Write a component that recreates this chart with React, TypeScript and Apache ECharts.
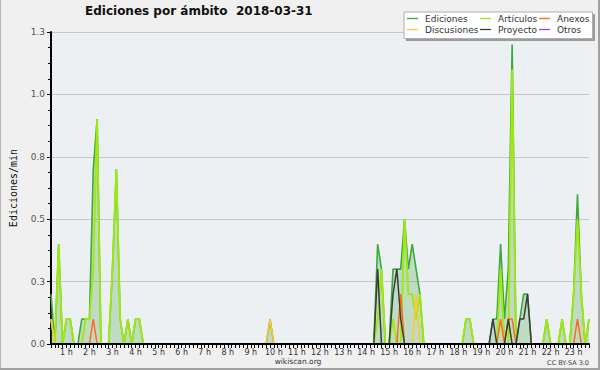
import React, { useEffect, useRef } from 'react';
import * as echarts from 'echarts';

// 10-minute bins from 00:20 to 23:40 (141 points)
const TIMES: string[] = Array.from({ length: 141 }, (_, i) => {
  const t = 20 + 10 * i;
  const h = Math.floor(t / 60);
  const m = t % 60;
  return `${String(h).padStart(2, '0')}:${String(m).padStart(2, '0')}`;
});

const EDICIONES = [
  0.2, 0, 0.4, 0, // 0h (00:20-00:50)
  0.1, 0.1, 0, 0, 0.1, 0.1, // 1h
  0.1, 0.7, 0.9, 0, 0, 0, // 2h
  0.3, 0.7, 0.1, 0, 0.1, 0, // 3h
  0.1, 0.1, 0, 0, 0, 0, // 4h
  0, 0, 0, 0, 0, 0, // 5h
  0, 0, 0, 0, 0, 0, // 6h
  0, 0, 0, 0, 0, 0, // 7h
  0, 0, 0, 0, 0, 0, // 8h
  0, 0, 0, 0, 0, 0.1, // 9h
  0, 0, 0, 0, 0, 0, // 10h
  0, 0, 0, 0, 0, 0, // 11h
  0, 0, 0, 0, 0, 0, // 12h
  0, 0, 0, 0, 0, 0, // 13h
  0, 0, 0, 0.4, 0.3, 0, // 14h
  0, 0.3, 0.3, 0.3, 0.5, 0.3, // 15h
  0.4, 0.3, 0.2, 0, 0, 0, // 16h
  0, 0, 0, 0, 0, 0, // 17h
  0, 0, 0.1, 0.1, 0, 0, // 18h
  0, 0, 0, 0.1, 0.1, 0.4, // 19h
  0.1, 0.3, 1.2, 0, 0.1, 0.2, // 20h
  0.2, 0, 0, 0, 0, 0.1, // 21h
  0, 0, 0, 0.1, 0, 0, // 22h
  0.2, 0.6, 0.2, 0, 0.1, // 23h
];

const ARTICULOS = [
  0.1, 0, 0.4, 0,
  0.1, 0.1, 0, 0, 0, 0.1,
  0.1, 0.3, 0.9, 0, 0, 0,
  0.3, 0.7, 0.1, 0, 0.1, 0,
  0.1, 0.1, 0, 0, 0, 0,
  0, 0, 0, 0, 0, 0,
  0, 0, 0, 0, 0, 0,
  0, 0, 0, 0, 0, 0,
  0, 0, 0, 0, 0, 0,
  0, 0, 0, 0, 0, 0,
  0, 0, 0, 0, 0, 0,
  0, 0, 0, 0, 0, 0,
  0, 0, 0, 0, 0, 0,
  0, 0, 0, 0, 0, 0,
  0, 0, 0, 0.1, 0.3, 0,
  0, 0.1, 0, 0, 0.5, 0.2,
  0.2, 0.1, 0.2, 0, 0, 0,
  0, 0, 0, 0, 0, 0,
  0, 0, 0.1, 0.1, 0, 0,
  0, 0, 0, 0, 0, 0.3,
  0, 0, 1.1, 0, 0, 0,
  0, 0, 0, 0, 0, 0.1,
  0, 0, 0, 0.1, 0, 0,
  0.2, 0.5, 0.2, 0, 0.1,
];

const ANEXOS = [
  0, 0, 0, 0,
  0, 0, 0, 0, 0, 0,
  0, 0.1, 0, 0, 0, 0,
  0, 0, 0, 0, 0, 0,
  0, 0, 0, 0, 0, 0,
  0, 0, 0, 0, 0, 0,
  0, 0, 0, 0, 0, 0,
  0, 0, 0, 0, 0, 0,
  0, 0, 0, 0, 0, 0,
  0, 0, 0, 0, 0, 0,
  0, 0, 0, 0, 0, 0,
  0, 0, 0, 0, 0, 0,
  0, 0, 0, 0, 0, 0,
  0, 0, 0, 0, 0, 0,
  0, 0, 0, 0, 0, 0,
  0, 0, 0, 0.2, 0, 0,
  0, 0, 0, 0, 0, 0,
  0, 0, 0, 0, 0, 0,
  0, 0, 0, 0, 0, 0,
  0, 0, 0, 0, 0, 0.1,
  0, 0.1, 0.1, 0, 0, 0,
  0, 0, 0, 0, 0, 0,
  0, 0, 0, 0, 0, 0,
  0, 0.1, 0, 0, 0,
];

const DISCUSIONES = [
  0.1, 0, 0, 0,
  0, 0, 0, 0, 0, 0,
  0, 0, 0, 0, 0, 0,
  0, 0, 0, 0, 0, 0,
  0, 0, 0, 0, 0, 0,
  0, 0, 0, 0, 0, 0,
  0, 0, 0, 0, 0, 0,
  0, 0, 0, 0, 0, 0,
  0, 0, 0, 0, 0, 0,
  0, 0, 0, 0, 0, 0.1,
  0, 0, 0, 0, 0, 0,
  0, 0, 0, 0, 0, 0,
  0, 0, 0, 0, 0, 0,
  0, 0, 0, 0, 0, 0,
  0, 0, 0, 0, 0, 0,
  0, 0, 0, 0, 0, 0,
  0, 0.2, 0, 0, 0, 0,
  0, 0, 0, 0, 0, 0,
  0, 0, 0, 0, 0, 0,
  0, 0, 0, 0, 0, 0,
  0, 0, 0, 0, 0, 0,
  0, 0, 0, 0, 0, 0,
  0, 0, 0, 0, 0, 0,
  0, 0, 0, 0, 0,
];

const PROYECTO = [
  0, 0, 0, 0,
  0, 0, 0, 0, 0, 0,
  0, 0, 0, 0, 0, 0,
  0, 0, 0, 0, 0, 0,
  0, 0, 0, 0, 0, 0,
  0, 0, 0, 0, 0, 0,
  0, 0, 0, 0, 0, 0,
  0, 0, 0, 0, 0, 0,
  0, 0, 0, 0, 0, 0,
  0, 0, 0, 0, 0, 0,
  0, 0, 0, 0, 0, 0,
  0, 0, 0, 0, 0, 0,
  0, 0, 0, 0, 0, 0,
  0, 0, 0, 0, 0, 0,
  0, 0, 0, 0.3, 0, 0,
  0, 0.2, 0.3, 0.1, 0, 0,
  0, 0, 0, 0, 0, 0,
  0, 0, 0, 0, 0, 0,
  0, 0, 0, 0, 0, 0,
  0, 0, 0, 0.1, 0, 0,
  0, 0.1, 0, 0, 0.1, 0.1,
  0.2, 0, 0, 0, 0, 0,
  0, 0, 0, 0, 0, 0,
  0, 0, 0, 0, 0,
];

const OTROS = [
  0, 0, 0, 0,
  0, 0, 0, 0, 0, 0,
  0, 0, 0, 0, 0, 0,
  0, 0, 0, 0, 0, 0,
  0, 0, 0, 0, 0, 0,
  0, 0, 0, 0, 0, 0,
  0, 0, 0, 0, 0, 0,
  0, 0, 0, 0, 0, 0,
  0, 0, 0, 0, 0, 0,
  0, 0, 0, 0, 0, 0,
  0, 0, 0, 0, 0, 0,
  0, 0, 0, 0, 0, 0,
  0, 0, 0, 0, 0, 0,
  0, 0, 0, 0, 0, 0,
  0, 0, 0, 0, 0, 0,
  0, 0, 0, 0, 0, 0,
  0, 0, 0, 0, 0, 0,
  0, 0, 0, 0, 0, 0,
  0, 0, 0, 0, 0, 0,
  0, 0, 0, 0, 0, 0,
  0, 0, 0, 0, 0, 0,
  0, 0, 0, 0, 0, 0,
  0, 0, 0, 0, 0, 0,
  0, 0, 0, 0, 0,
];

const TITLE = 'Ediciones por ámbito  2018-03-31';
const Y_NAME = 'Ediciones/min';

const FONT = 'DejaVu Sans';

export default function App() {
  const ref = useRef<HTMLDivElement>(null);

  useEffect(() => {
    if (!ref.current) return;
    const chart = echarts.init(ref.current, null, { renderer: 'svg' });

    const legendCommon = {
      orient: 'vertical' as const,
      top: 13,
      padding: 0,
      itemGap: 0,
      itemWidth: 11,
      itemHeight: 1.3,
      icon: 'rect',
      selectedMode: false,
      textStyle: { fontSize: 9, color: '#333', fontFamily: FONT, lineHeight: 11, padding: [0, 0, 0, 2] },
    };

    const lineSeries = (name: string, data: number[], color: string, width: number, extra: any = {}) => ({
      name,
      type: 'line',
      data,
      color,
      symbol: 'none',
      showSymbol: false,
      lineStyle: { color, width },
      ...extra,
    });

    chart.setOption({
      animation: false,
      backgroundColor: '#f0f0f0',
      title: {
        text: TITLE,
        left: 85,
        top: 5,
        padding: 0,
        textStyle: { fontSize: 12, fontWeight: 'bold', fontFamily: FONT, color: '#111' },
      },
      legend: [
        { ...legendCommon, left: 407, data: ['Ediciones', 'Discusiones'] },
        { ...legendCommon, left: 480, data: ['Artículos', 'Proyecto'] },
        { ...legendCommon, left: 539, data: ['Anexos', 'Otros'] },
      ],
      grid: {
        left: 46.5,
        top: 32,
        width: 542.5,
        height: 312,
        show: true,
        backgroundColor: '#edf0f2',
        borderWidth: 0,
      },
      xAxis: {
        type: 'category',
        data: TIMES,
        boundaryGap: false,
        z: 10,
        axisLine: { lineStyle: { color: '#000', width: 2 } },
        axisTick: { show: true, interval: 0, length: 4, lineStyle: { color: '#000', width: 1 } },
        axisLabel: {
          interval: (_idx: number, val: string) => val.endsWith(':00'),
          formatter: (val: string) => `${parseInt(val, 10)} h`,
          fontSize: 8,
          fontFamily: FONT,
          color: '#333',
          margin: 4,
        },
        splitLine: { show: false },
      },
      yAxis: {
        type: 'value',
        min: 0,
        max: 1.25,
        interval: 0.25,
        name: Y_NAME,
        nameLocation: 'middle',
        nameGap: 33,
        nameTextStyle: { fontFamily: 'DejaVu Sans Mono', fontSize: 10, color: '#111' },
        axisLine: { show: true, lineStyle: { color: '#000', width: 2 } },
        axisTick: { show: true, length: 4, lineStyle: { color: '#000' } },
        minorTick: { show: true, splitNumber: 4, length: 3, lineStyle: { color: '#000' } },
        splitLine: { show: true, lineStyle: { color: '#c8c8c8', width: 1 } },
        axisLabel: {
          formatter: (v: number) => v.toFixed(1),
          fontSize: 9,
          fontFamily: FONT,
          color: '#555',
          margin: 6,
        },
      },
      series: [
        lineSeries('Ediciones', EDICIONES, '#3aaa3a', 1.6, {
          areaStyle: { color: 'rgba(80,170,80,0.42)' },
        }),
        lineSeries('Artículos', ARTICULOS, '#9fe812', 1.9),
        lineSeries('Discusiones', DISCUSIONES, '#ffc832', 1.5),
        lineSeries('Anexos', ANEXOS, '#ff6a22', 1.5),
        lineSeries('Proyecto', PROYECTO, '#3c3c3c', 1.5),
        lineSeries('Otros', OTROS, '#9944ee', 1.5),
      ],
      graphic: [
        { type: 'rect', z: 3, shape: { x: 406, y: 14, width: 189, height: 27 }, style: { fill: '#9a9a9a' } },
        { type: 'rect', z: 3, shape: { x: 404, y: 12, width: 188.5, height: 26.5 }, style: { fill: '#ffffff', stroke: '#b0b0b0', lineWidth: 1 } },
        {
          type: 'text', z: 5, x: 298, y: 361,
          style: { text: 'wikiscan.org', fontSize: 7.5, fontFamily: FONT, fill: '#333', align: 'center', verticalAlign: 'middle' },
        },
        {
          type: 'text', z: 5, x: 589, y: 363,
          style: { text: 'CC BY-SA 3.0', fontSize: 6.5, fontFamily: FONT, fill: '#444', align: 'right', verticalAlign: 'middle' },
        },
        { type: 'line', z: 5, shape: { x1: 0.5, y1: 0, x2: 0.5, y2: 370 }, style: { stroke: '#b4b4b4', lineWidth: 1 } },
        { type: 'line', z: 5, shape: { x1: 599, y1: 0, x2: 599, y2: 370 }, style: { stroke: '#a0a0a0', lineWidth: 2 } },
        { type: 'line', z: 5, shape: { x1: 0, y1: 369, x2: 600, y2: 369 }, style: { stroke: '#a0a0a0', lineWidth: 2 } },
      ],
    });

    return () => chart.dispose();
  }, []);

  return <div ref={ref} style={{ position: 'absolute', left: 0, top: 0, width: 600, height: 370 }} />;
}
